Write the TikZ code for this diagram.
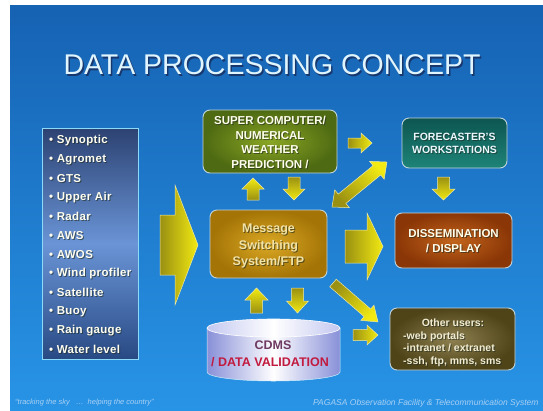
\documentclass[tikz,border=0pt]{standalone}
\usepackage{fontspec}
\setmainfont{Liberation Sans}
\usetikzlibrary{calc}

\definecolor{bgtop}{HTML}{1662B3}
\definecolor{bgbot}{HTML}{2894E6}
\definecolor{arrowlight}{HTML}{F2EA12}
\definecolor{arrowdark}{HTML}{9A9012}
\definecolor{arrowedge}{HTML}{EEEAA8}
\definecolor{boxedge}{HTML}{C0D4DC}
\definecolor{shadowcol}{HTML}{1E2A20}
\definecolor{cylside}{HTML}{8890D8}
\definecolor{cyltop}{HTML}{C4C8F0}
\definecolor{footcol}{HTML}{A8D0F4}
\definecolor{listtop}{HTML}{2C4272}
\definecolor{listmid}{HTML}{6A94D6}
\definecolor{listbot}{HTML}{284A84}
\definecolor{nwpin}{HTML}{8AA624}
\definecolor{nwpout}{HTML}{4E6A12}
\definecolor{mssin}{HTML}{DAA824}
\definecolor{mssout}{HTML}{A47406}
\definecolor{fwstop}{HTML}{0D5550}
\definecolor{fwsbot}{HTML}{1E8478}
\definecolor{dissin}{HTML}{C2641C}
\definecolor{dissout}{HTML}{8A3606}
\definecolor{usersin}{HTML}{8E8050}
\definecolor{usersout}{HTML}{4E4418}
\definecolor{msstxt}{HTML}{F2E2A6}
\definecolor{userstxt}{HTML}{F2ECD2}
\definecolor{cdmsa}{HTML}{6E3A62}
\definecolor{cdmsb}{HTML}{C21A3E}

% text drawn with a soft dark shadow underneath: name, position, style, text
\newcommand\shadowtext[4]{%
  \node[#3, text=shadowcol, text opacity=0.6] at ([shift={(1,1)}]#2) {#4};
  \node[#3] (#1) at (#2) {#4};
}

\tikzset{
  box/.style={draw=boxedge, line width=0.9pt, rounded corners=7pt, inner sep=0pt},
  boxtext/.style={align=center, inner sep=0pt, font=\bfseries},
  arrowbody/.style={draw=arrowedge, line width=0.5pt, line join=miter},
  arrowshade/.style={left color=arrowdark, right color=arrowlight},
  tipright/.style={arrowshade/.style={left color=arrowdark, right color=arrowlight}},
  tipup/.style={arrowshade/.style={top color=arrowlight, bottom color=arrowdark}},
  tipdown/.style={arrowshade/.style={top color=arrowdark, bottom color=arrowlight}},
  tipne/.style={arrowshade/.style={top color=arrowlight, bottom color=arrowdark, shading angle=-45}},
  tipse/.style={arrowshade/.style={top color=arrowlight, bottom color=arrowdark, shading angle=-135}},
  % block arrow: length, shaft half width, head half width, head length
  pics/blockarrow/.style n args={4}{code={
    \path[arrowbody, arrowshade] (0,-#2) -- ({#1-#4},-#2) -- ({#1-#4},-#3) -- (#1,0)
      -- ({#1-#4},#3) -- ({#1-#4},#2) -- (0,#2) -- cycle;
  }},
  % double-headed block arrow with the same parameters
  pics/dblarrow/.style n args={4}{code={
    \path[arrowbody, arrowshade] (0,0) -- (#4,-#3) -- (#4,-#2) -- ({#1-#4},-#2) -- ({#1-#4},-#3)
      -- (#1,0) -- ({#1-#4},#3) -- ({#1-#4},#2) -- (#4,#2) -- (#4,#3) -- cycle;
  }},
  listtext/.style={anchor=west, inner sep=0pt, text=white!94!yellow,
    font=\bfseries\fontsize{11.5}{13}\selectfont\addfontfeatures{LetterSpace=3}},
  foot/.style={anchor=west, inner sep=0pt, text=footcol, font=\itshape\fontsize{7.5}{9}\selectfont},
}

\begin{document}
\begin{tikzpicture}[x=1pt, y=-1pt]
\useasboundingbox (0,0) rectangle (543,410);
\fill[white] (0,0) rectangle (543,410);
\shade[top color=bgtop, bottom color=bgbot] (10,5) rectangle (543,410);

% title
\node[text=shadowcol!80!blue, text opacity=0.7, font=\fontsize{28.5}{30}\selectfont, inner sep=0pt]
  at (273.5,66.5) {DATA PROCESSING CONCEPT};
\node[text=white!88!cyan, font=\fontsize{28.5}{30}\selectfont, inner sep=0pt]
  (title) at (272,65) {DATA PROCESSING CONCEPT};

% list of observing sources
\node[draw=white!55!cyan, line width=0.9pt, minimum width=96pt, minimum height=231pt,
  top color=listtop, bottom color=listbot, middle color=listmid]
  (sources) at (90,243.5) {};
\foreach \t [count=\i] in {Synoptic, Agromet, GTS, Upper Air, Radar, AWS, AWOS,
    Wind profiler, Satellite, Buoy, Rain gauge, Water level}
  \shadowtext{src\i}{49,{140.5+(\i-1)*19}}{listtext}{• \t};

% processing boxes
\node[box, minimum width=134pt, minimum height=63pt, inner color=nwpin, outer color=nwpout]
  (nwp) at (270,141.5) {};
\node[box, minimum width=117pt, minimum height=68pt, inner color=mssin, outer color=mssout]
  (mss) at (268.5,244) {};
\node[box, minimum width=105pt, minimum height=50pt, top color=fwstop, bottom color=fwsbot]
  (fws) at (454.5,143) {};
\node[box, minimum width=117pt, minimum height=55pt, inner color=dissin, outer color=dissout]
  (diss) at (453.5,240.5) {};
\node[box, minimum width=125pt, minimum height=62pt, inner color=usersin, outer color=usersout]
  (users) at (452.5,339) {};

\shadowtext{nwptext}{270,142.5}{boxtext, text=white!92!yellow, font=\bfseries\fontsize{11.5}{14.5}\selectfont}
  {SUPER COMPUTER/\\NUMERICAL\\WEATHER\\PREDICTION /}
\shadowtext{msstext}{268.5,246}{boxtext, text=msstxt, font=\bfseries\fontsize{12.5}{16.5}\selectfont}
  {Message\\Switching\\System/FTP}
\shadowtext{fwstext}{454.5,143}{boxtext, text=white!92!cyan, font=\bfseries\fontsize{10.5}{13}\selectfont}
  {FORECASTER'S\\WORKSTATIONS}
\shadowtext{disstext}{453.5,241}{boxtext, text=white!92!yellow, font=\bfseries\fontsize{11.5}{15}\selectfont}
  {DISSEMINATION\\/ DISPLAY}
\shadowtext{userhead}{453,323}{boxtext, text=userstxt, font=\bfseries\fontsize{10.5}{12.5}\selectfont}
  {Other users:}
\shadowtext{userlist}{403,349}{boxtext, anchor=west, align=left, text=userstxt, font=\bfseries\fontsize{10.5}{12.5}\selectfont}
  {-web portals\\-intranet / extranet\\-ssh, ftp, mms, sms}

% database cylinder
\shade[left color=cylside, right color=cylside, middle color=white, draw=white!80!cyan, line width=0.5pt]
  (207,328) -- (207,372) arc[start angle=180, end angle=0, x radius=66.5, y radius=9] -- (340,328) -- cycle;
\shade[left color=cyltop, right color=cyltop, middle color=white, draw=white, line width=0.6pt]
  (273.5,328) ellipse [x radius=66.5, y radius=9];
\node[inner sep=0pt, minimum width=133pt, minimum height=54pt] (cdms) at (273.5,355) {};
\node[font=\bfseries\fontsize{12.5}{14}\selectfont, text=cdmsa, inner sep=0pt] (cdmsA) at (273,345) {CDMS};
\node[font=\bfseries\fontsize{12.5}{14}\selectfont, text=cdmsb, inner sep=0pt] (cdmsB) at (270,362) {/ DATA VALIDATION};

% flow arrows
\pic[tipright] (feed) at (160,245) {blockarrow={38}{30}{60}{23}};
\pic[tipright] (tofws) at (348,143) {blockarrow={24}{5}{10}{11}};
\pic[rotate=90, tipup] (tonwp) at (253,200) {blockarrow={22}{6}{11}{11}};
\pic[rotate=-90, tipdown] (frnwp) at (294,177) {blockarrow={23}{6}{11}{11}};
\pic[rotate=39.3, tipne] (mssfws) at (332,207) {dblarrow={71}{6}{11.5}{13}};
\pic[tipright] (todiss) at (345,246.5) {blockarrow={38}{16.5}{33.5}{16}};
\pic[rotate=-90, tipdown] (fwsdiss) at (443.5,177) {blockarrow={23}{6}{11.5}{11}};
\pic[rotate=90, tipup] (cdmsup) at (256.5,313) {blockarrow={25}{6}{11.5}{12}};
\pic[rotate=-90, tipdown] (cdmsdown) at (297.5,288) {blockarrow={25}{6}{11}{12}};
\pic[rotate=-40.9, tipse] (mssusers) at (333,283) {blockarrow={59.5}{5}{10}{14}};
\pic[tipright] (cdmsusers) at (353,335) {blockarrow={25}{5.5}{10}{11}};

% footer
\node[foot] (motto) at (15,403) {“tracking the sky \ \ …\ \ helping the country”};
\node[foot, font=\itshape\fontsize{8.5}{9}\selectfont] (org) at (313,403)
  {PAGASA Observation Facility \& Telecommunication System};
\end{tikzpicture}
\end{document}
